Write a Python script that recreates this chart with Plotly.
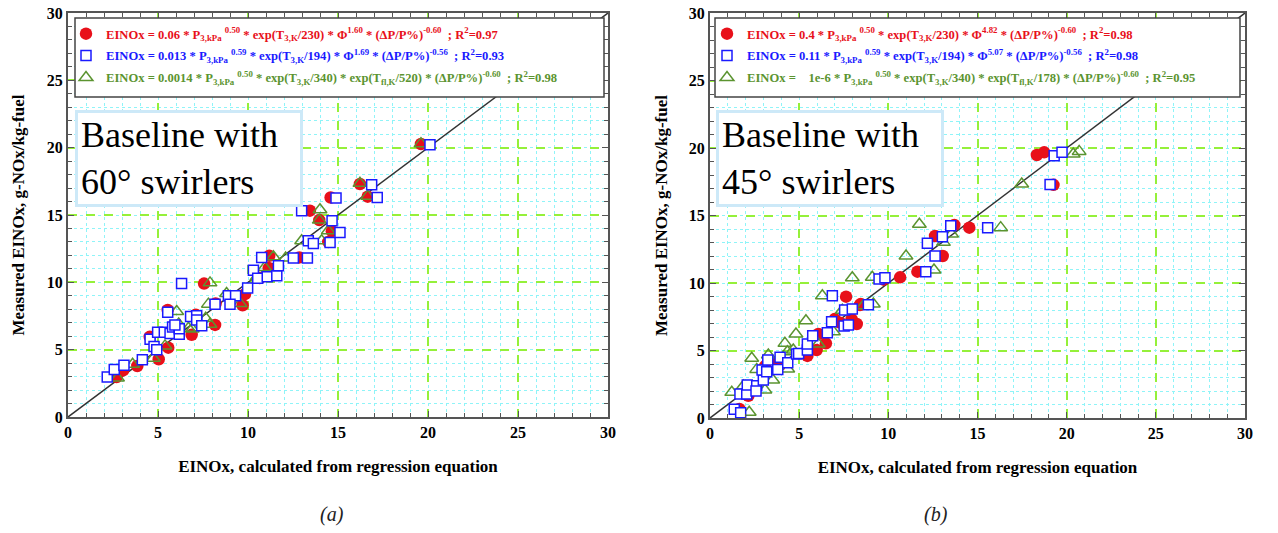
import plotly.graph_objects as go
from plotly.subplots import make_subplots

# ---------------- data: panel (a), 60 deg swirlers ----------------
a_red_x = [2.7, 3.06, 3.85, 5.04, 4.54, 5.57, 5.54, 6.87, 7.1, 8.17, 7.56, 8.2, 9.7, 9.83, 10.65,
           11.15, 11.18, 12.85, 13.44, 13.96, 14.46, 14.66, 14.59, 16.22, 16.65, 19.61]
a_red_y = [2.97, 3.46, 3.79, 4.29, 5.95, 5.15, 7.95, 6.1, 7.6, 6.84, 9.91, 8.43, 8.3, 9.12, 10.32,
           11.06, 11.97, 11.85, 15.32, 14.62, 13.0, 13.8, 16.3, 17.3, 16.36, 20.27]

a_blue_x = [2.18, 2.57, 3.11, 4.13, 4.56, 4.78, 4.93, 4.98, 5.35, 5.67, 5.81, 6.18, 6.18, 5.94, 5.54,
            6.31, 6.81, 7.15, 7.15, 7.43, 8.17, 8.91, 9.31, 9.0, 9.98, 10.3, 10.54, 11.07, 11.6, 11.69,
            10.76, 12.52, 13.3, 12.98, 13.35, 13.63, 14.56, 14.67, 15.11, 14.89, 17.18, 16.87, 20.11]
a_blue_y = [2.97, 3.52, 3.84, 4.26, 5.78, 5.23, 5.0, 6.3, 6.3, 6.2, 6.69, 6.15, 6.56, 6.84, 7.78,
            9.91, 7.46, 7.51, 7.2, 6.77, 8.38, 9.0, 9.0, 8.38, 9.57, 10.9, 10.31, 10.42, 10.49, 11.23,
            11.85, 11.8, 11.8, 15.32, 13.09, 12.89, 12.96, 14.57, 13.7, 16.26, 16.3, 17.25, 20.22]

a_green_x = [2.75, 3.59, 4.74, 5.39, 6.04, 6.15, 6.69, 6.9, 7.65, 7.89, 7.8, 7.89, 8.81, 9.56, 10.93,
             11.41, 12.09, 12.98, 14.0, 13.96, 14.09, 14.46, 16.22, 16.65, 19.61, 10.5]
a_green_y = [2.9, 3.91, 4.36, 5.28, 7.83, 6.9, 6.59, 6.54, 7.33, 6.89, 8.38, 9.96, 9.17, 8.42, 11.1,
             11.9, 11.8, 13.09, 15.39, 14.62, 13.09, 13.83, 17.35, 16.4, 20.3, 10.4]

# ---------------- data: panel (b), 45 deg swirlers ----------------
b_red_x = [1.65, 2.15, 3.08, 3.93, 3.85, 5.46, 5.98, 6.5, 6.08, 7.29, 8.23, 7.94, 6.99, 7.63, 8.41,
           8.45, 9.74, 10.66, 11.63, 12.62, 13.05, 13.7, 14.54, 18.33, 18.74, 19.26]
b_red_y = [0.67, 1.65, 3.83, 3.93, 4.2, 4.6, 5.04, 5.53, 6.22, 7.06, 6.96, 7.33, 7.33, 8.99, 8.37,
           8.44, 10.25, 10.42, 10.84, 13.48, 12.0, 14.3, 14.1, 19.48, 19.68, 17.27]

b_blue_x = [1.36, 1.72, 1.68, 2.06, 2.09, 2.62, 2.58, 2.99, 2.92, 3.18, 3.24, 3.8, 3.93, 4.36, 4.86,
            4.97, 5.46, 5.46, 5.76, 6.58, 6.82, 7.52, 7.76, 7.55, 7.98, 6.86, 8.88, 9.48, 9.81, 12.19,
            12.62, 12.1, 13.03, 13.5, 15.57, 19.07, 19.3, 19.74]
b_blue_y = [0.64, 0.39, 1.78, 1.78, 2.44, 2.39, 2.0, 2.81, 3.56, 3.43, 4.3, 3.6, 4.5, 4.1, 4.74,
            4.77, 5.04, 5.48, 6.1, 6.32, 7.13, 6.81, 6.89, 8.0, 8.07, 9.06, 8.39, 10.3, 10.39, 12.94,
            12.0, 10.84, 13.43, 14.25, 14.1, 17.29, 19.43, 19.68]

b_green_x = [1.22, 2.2, 1.87, 2.34, 2.62, 3.08, 3.27, 3.52, 4.2, 4.34, 4.36, 4.67, 4.82, 5.38, 6.07,
             6.92, 6.3, 7.42, 8.6, 9.16, 7.98, 9.1, 10.99, 11.74, 12.56, 13.09, 13.55, 16.3, 17.48,
             20.37, 20.7]
b_green_y = [1.9, 0.42, 2.37, 4.42, 3.6, 2.07, 4.67, 2.81, 5.53, 4.91, 3.63, 5.04, 6.22, 7.21, 5.48,
             6.39, 9.06, 7.98, 8.32, 8.44, 10.39, 10.42, 12.0, 14.35, 10.96, 13.01, 13.63, 14.1, 17.33,
             19.56, 19.75]

parity = [0, 30]
tick_vals = [0, 5, 10, 15, 20, 25, 30]

NB = "\u00a0"
a_names = [
    f"EINOx = 0.06 * P<sub>3,kPa</sub>{NB}<sup>0.50</sup> * exp(T<sub>3,K</sub>/230) * Φ<sup>1.60</sup> * (ΔP/P%)<sup>-0.60</sup>{NB}{NB}; R<sup>2</sup>=0.97",
    f"EINOx = 0.013 * P<sub>3,kPa</sub>{NB}<sup>0.59</sup> * exp(T<sub>3,K</sub>/194) * Φ<sup>1.69</sup> * (ΔP/P%)<sup>-0.56</sup>{NB}{NB}; R<sup>2</sup>=0.93",
    f"EINOx = 0.0014 * P<sub>3,kPa</sub>{NB}<sup>0.50</sup> * exp(T<sub>3,K</sub>/340) * exp(T<sub>fl,K</sub>/520) * (ΔP/P%)<sup>-0.60</sup>{NB}{NB}; R<sup>2</sup>=0.98",
]
b_names = [
    f"EINOx = 0.4 * P<sub>3,kPa</sub>{NB}<sup>0.50</sup> * exp(T<sub>3,K</sub>/230) * Φ<sup>4.82</sup> * (ΔP/P%)<sup>-0.60</sup>{NB}{NB}; R<sup>2</sup>=0.98",
    f"EINOx = 0.11 * P<sub>3,kPa</sub>{NB}<sup>0.59</sup> * exp(T<sub>3,K</sub>/194) * Φ<sup>5.07</sup> * (ΔP/P%)<sup>-0.56</sup>{NB}{NB}; R<sup>2</sup>=0.98",
    f"EINOx ={NB}{NB}{NB}{NB}1e-6 * P<sub>3,kPa</sub>{NB}<sup>0.50</sup> * exp(T<sub>3,K</sub>/340) * exp(T<sub>fl,K</sub>/178) * (ΔP/P%)<sup>-0.60</sup>{NB}{NB}; R<sup>2</sup>=0.95",
]

RED = "#e8101a"
BLUE = "#1a1aff"
GREEN = "#5b9430"
SERIF = "Liberation Serif, Times New Roman, serif"

fig = make_subplots(rows=1, cols=2)


def add_panel(col, rx, ry, bx, by, gx, gy, names, legend):
    fig.add_trace(go.Scatter(x=parity, y=parity, mode="lines", line=dict(color="#333333", width=1.5),
                             showlegend=False, hoverinfo="skip"), row=1, col=col)
    fig.add_trace(go.Scatter(x=rx, y=ry, mode="markers", name=f'<span style="color:{RED}">{names[0]}</span>',
                             marker=dict(symbol="circle", size=12.5, color=RED, line=dict(width=0)),
                             legend=legend, legendrank=1, legendgroup=f"r{col}"), row=1, col=col)
    fig.add_trace(go.Scatter(x=gx, y=gy, mode="markers", name=f'<span style="color:{GREEN}">{names[2]}</span>',
                             marker=dict(symbol="triangle-up-open", size=12, color=GREEN, line=dict(width=1.5)),
                             legend=legend, legendrank=3, legendgroup=f"g{col}"), row=1, col=col)
    fig.add_trace(go.Scatter(x=bx, y=by, mode="markers", name=f'<span style="color:{BLUE}">{names[1]}</span>',
                             marker=dict(symbol="square", size=10, color="white", line=dict(width=1.5, color=BLUE)),
                             legend=legend, legendrank=2, legendgroup=f"b{col}"), row=1, col=col)


add_panel(1, a_red_x, a_red_y, a_blue_x, a_blue_y, a_green_x, a_green_y, a_names, "legend")
add_panel(2, b_red_x, b_red_y, b_blue_x, b_blue_y, b_green_x, b_green_y, b_names, "legend2")

W, H = 1278, 533
ax_common = dict(
    range=[0, 30], tickvals=tick_vals, ticks="inside", ticklen=6, tickwidth=1.2, tickcolor="#555555",
    showline=True, linecolor="#555555", linewidth=2, mirror="allticks",
    showgrid=True, gridcolor="#95f03a", griddash="dash", gridwidth=1.5, zeroline=False,
    minor=dict(dtick=1, ticks="inside", ticklen=4, tickcolor="#555555", showgrid=True,
               gridcolor="#8ff4f8", griddash="dot", gridwidth=1.4),
    tickfont=dict(family=SERIF, size=16, color="black", weight="bold"),
    title_font=dict(family=SERIF, size=17, color="black", weight="bold"),
    automargin=False,
)

fig.update_xaxes(**ax_common)
fig.update_yaxes(**ax_common)
fig.update_xaxes(domain=[68 / W, 608 / W], title_text="EINOx, calculated from regression equation",
                 title_standoff=20, row=1, col=1)
fig.update_xaxes(domain=[710 / W, 1245 / W], title_text="EINOx, calculated from regression equation",
                 title_standoff=20, row=1, col=2)
fig.update_yaxes(domain=[1 - 417 / H, 1 - 13 / H], title_text="Measured EINOx, g-NOx/kg-fuel",
                 title_standoff=18, row=1, col=1)
fig.update_yaxes(domain=[1 - 418 / H, 1 - 13 / H], title_text="Measured EINOx, g-NOx/kg-fuel",
                 title_standoff=17, row=1, col=2)

legend_style = dict(bgcolor="rgba(0,0,0,0)", borderwidth=0, xanchor="left", yanchor="top",
                    font=dict(family=SERIF, size=12.6, color="black", weight="bold"),
                    itemwidth=30, tracegroupgap=2.5)

fig.update_layout(
    width=W, height=H, autosize=False, template="none",
    margin=dict(l=0, r=0, t=0, b=0),
    paper_bgcolor="white", plot_bgcolor="white",
    legend=dict(x=66 / W, y=1 - 19 / H, **legend_style),
    legend2=dict(x=707 / W, y=1 - 19 / H, **legend_style),
    showlegend=True,
)

# legend frames (white boxes with dark border) behind the legends
for x0, x1 in [(75, 604), (715, 1240)]:
    fig.add_shape(type="rect", xref="paper", yref="paper", layer="above",
                  x0=x0 / W, x1=x1 / W, y0=1 - 97 / H, y1=1 - 18 / H,
                  fillcolor="white", line=dict(color="#444444", width=1.5))

box = dict(xref="paper", yref="paper", xanchor="left", yanchor="top", showarrow=False, align="left",
           bgcolor="white", bordercolor="#cde9f8", borderwidth=3, borderpad=3,
           font=dict(family=SERIF, size=36, color="black"), width=216, height=85)
fig.add_annotation(text="Baseline with<br>60° swirlers", x=75 / W, y=1 - 110 / H, **box)
fig.add_annotation(text="Baseline with<br>45° swirlers", x=716 / W, y=1 - 110 / H, **box)

cap = dict(xref="paper", yref="paper", showarrow=False, yanchor="middle",
           font=dict(family=SERIF, size=20, color="#222222", style="italic"))
fig.add_annotation(text="(a)", x=318 / W, y=1 - 514 / H, **cap)
fig.add_annotation(text="(b)", x=950 / W, y=1 - 514 / H, **cap)

fig.write_html("out.html")
